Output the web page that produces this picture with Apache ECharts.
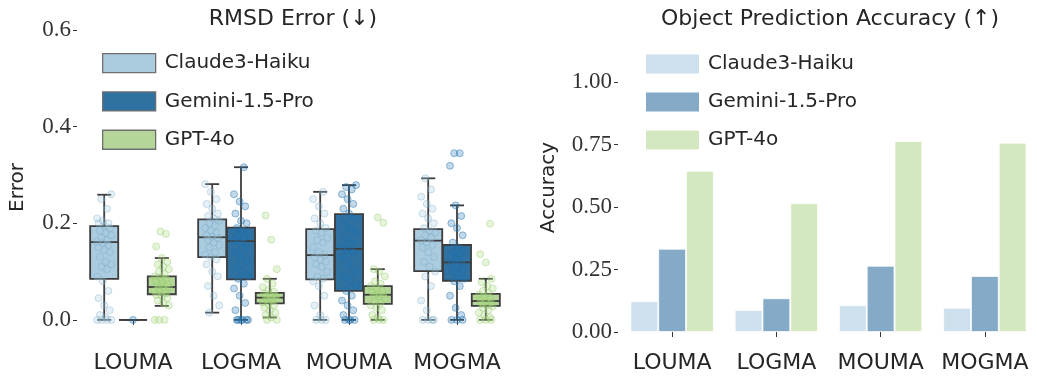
<!DOCTYPE html>
<html>
<head>
<meta charset="utf-8">
<script src="https://cdn.jsdelivr.net/npm/echarts@6/dist/echarts.min.js"></script>
<style>
  html, body { margin: 0; padding: 0; background: #fff; }
  #chart { width: 1037px; height: 381px; }
</style>
</head>
<body>
<div id="chart"></div>
<script>
// Categories and models
const categories = ["LOUMA", "LOGMA", "MOUMA", "MOGMA"];
const models = ["Claude3-Haiku", "Gemini-1.5-Pro", "GPT-4o"];

// Box stats per category: [min whisker, q1, median, q3, max whisker]
const boxClaude = [
  [0, 0.085, 0.161, 0.194, 0.259],
  [0.015, 0.130, 0.171, 0.208, 0.281],
  [0, 0.084, 0.134, 0.188, 0.265],
  [0, 0.101, 0.164, 0.188, 0.293],
];
const boxGemini = [
  [0, 0, 0, 0, 0],
  [0, 0.084, 0.163, 0.191, 0.316],
  [0, 0.060, 0.147, 0.219, 0.279],
  [0, 0.081, 0.119, 0.155, 0.237],
];
const boxGpt = [
  [0.029, 0.053, 0.068, 0.090, 0.128],
  [0.005, 0.034, 0.046, 0.056, 0.085],
  [0, 0.033, 0.052, 0.070, 0.105],
  [0, 0.029, 0.039, 0.054, 0.085],
];

// Individual RMSD values (strip points), per category
const pointsClaude = [
  [0, 0, 0, 0, 0.005, 0.01, 0.02, 0.03, 0.045, 0.06, 0.08, 0.09, 0.105, 0.11, 0.115, 0.12, 0.13, 0.14, 0.145, 0.15, 0.155, 0.16, 0.162, 0.165, 0.17, 0.175, 0.18, 0.185, 0.19, 0.195, 0.2, 0.2, 0.205, 0.21, 0.23, 0.25, 0.26],
  [0.015, 0.03, 0.05, 0.07, 0.09, 0.1, 0.115, 0.125, 0.13, 0.135, 0.14, 0.15, 0.155, 0.16, 0.165, 0.17, 0.172, 0.175, 0.18, 0.185, 0.19, 0.195, 0.2, 0.205, 0.21, 0.215, 0.22, 0.23, 0.24, 0.25, 0.265, 0.281],
  [0, 0, 0, 0.01, 0.03, 0.05, 0.07, 0.08, 0.085, 0.09, 0.1, 0.11, 0.115, 0.12, 0.125, 0.13, 0.135, 0.14, 0.15, 0.16, 0.165, 0.17, 0.18, 0.185, 0.19, 0.2, 0.21, 0.22, 0.235, 0.25, 0.265],
  [0, 0, 0, 0, 0.02, 0.04, 0.07, 0.09, 0.1, 0.11, 0.12, 0.13, 0.14, 0.15, 0.155, 0.16, 0.165, 0.17, 0.175, 0.18, 0.185, 0.19, 0.2, 0.21, 0.22, 0.23, 0.24, 0.255, 0.27, 0.293],
];
const pointsGemini = [
  [0],
  [0, 0, 0, 0, 0, 0, 0.02, 0.035, 0.05, 0.065, 0.075, 0.085, 0.09, 0.1, 0.11, 0.12, 0.13, 0.14, 0.15, 0.16, 0.165, 0.17, 0.175, 0.18, 0.185, 0.19, 0.2, 0.205, 0.22, 0.235, 0.245, 0.26, 0.316],
  [0, 0, 0, 0, 0.01, 0.02, 0.03, 0.04, 0.05, 0.06, 0.07, 0.08, 0.09, 0.1, 0.115, 0.13, 0.14, 0.145, 0.15, 0.16, 0.17, 0.18, 0.19, 0.2, 0.21, 0.22, 0.23, 0.24, 0.25, 0.26, 0.27, 0.275, 0.279],
  [0, 0, 0, 0.01, 0.025, 0.05, 0.07, 0.08, 0.085, 0.09, 0.1, 0.105, 0.11, 0.115, 0.12, 0.125, 0.13, 0.135, 0.14, 0.145, 0.15, 0.16, 0.175, 0.19, 0.2, 0.215, 0.237, 0.319, 0.345, 0.345],
];
const pointsGpt = [
  [0, 0, 0, 0.03, 0.035, 0.04, 0.045, 0.05, 0.052, 0.055, 0.058, 0.06, 0.062, 0.065, 0.068, 0.07, 0.072, 0.075, 0.078, 0.08, 0.085, 0.088, 0.09, 0.095, 0.1, 0.105, 0.11, 0.115, 0.12, 0.128, 0.152, 0.178, 0.183],
  [0, 0, 0.005, 0.01, 0.015, 0.02, 0.025, 0.03, 0.033, 0.036, 0.04, 0.042, 0.044, 0.046, 0.048, 0.05, 0.052, 0.055, 0.058, 0.062, 0.068, 0.075, 0.085, 0.105, 0.166, 0.216],
  [0, 0, 0, 0.005, 0.01, 0.02, 0.025, 0.03, 0.035, 0.04, 0.045, 0.048, 0.05, 0.052, 0.055, 0.058, 0.06, 0.065, 0.07, 0.075, 0.08, 0.09, 0.1, 0.105, 0.201, 0.212],
  [0, 0, 0, 0.005, 0.01, 0.015, 0.02, 0.025, 0.028, 0.03, 0.033, 0.036, 0.039, 0.042, 0.045, 0.048, 0.052, 0.055, 0.06, 0.065, 0.07, 0.078, 0.085, 0.119, 0.136, 0.199],
];

// Object prediction accuracy
const accClaude = [0.123, 0.088, 0.107, 0.097];
const accGemini = [0.333, 0.135, 0.265, 0.224];
const accGpt = [0.645, 0.515, 0.764, 0.757];

// Tick labels
const errorTicks = [0, 0.2, 0.4, 0.6];
const accTicks = [0, 0.25, 0.5, 0.75, 1.0];

const BOX_COLORS = ["#abcbde", "#2f71a0", "#b4d699"];
const POINT_FILL = ["rgba(166,206,227,0.35)", "rgba(31,120,180,0.35)", "rgba(178,223,138,0.4)"];
const POINT_EDGE = ["rgba(120,165,195,0.45)", "rgba(31,110,170,0.55)", "rgba(140,195,100,0.45)"];
const BAR_COLORS = ["#cde0eb", "#84aac7", "#d3e8c0"];
const EDGE = "#3d3d3d";
const SANS = "DejaVu Sans";
const SERIF = "Liberation Serif";
const HUE_STEP = 0.2667; // dodge offset, in category units
const BOX_HALF = 0.13;   // half box width, in category units

const boxes = [boxClaude, boxGemini, boxGpt];
const points = [pointsClaude, pointsGemini, pointsGpt];
const accs = [accClaude, accGemini, accGpt];

function makeRenderBox(hue) {
  return function (params, api) {
    const cat = api.value(0);
    const bw = api.size([1, 0])[0];
    const x = api.coord([cat, 0])[0] + (hue - 1) * bw * HUE_STEP;
    const half = bw * BOX_HALF;
    const cap = half / 2;
    const y = [1, 2, 3, 4, 5].map((i) => api.coord([cat, api.value(i)])[1]);
    const [yMin, yQ1, yMed, yQ3, yMax] = y;
    const line = { stroke: EDGE, lineWidth: 1.8 };
    return {
      type: "group",
      children: [
        { type: "line", shape: { x1: x, y1: yMax, x2: x, y2: yQ3 }, style: line },
        { type: "line", shape: { x1: x, y1: yQ1, x2: x, y2: yMin }, style: line },
        { type: "line", shape: { x1: x - cap, y1: yMax, x2: x + cap, y2: yMax }, style: line },
        { type: "line", shape: { x1: x - cap, y1: yMin, x2: x + cap, y2: yMin }, style: line },
        {
          type: "rect",
          shape: { x: x - half, y: yQ3, width: half * 2, height: yQ1 - yQ3 },
          style: { fill: BOX_COLORS[hue], stroke: EDGE, lineWidth: 1.8 },
        },
        { type: "line", shape: { x1: x - half, y1: yMed, x2: x + half, y2: yMed }, style: line },
      ],
    };
  };
}

const series = [];

// Boxes
boxes.forEach((b, hue) => {
  series.push({
    name: models[hue],
    type: "custom",
    xAxisIndex: 0,
    yAxisIndex: 0,
    renderItem: makeRenderBox(hue),
    encode: { x: 0, y: [1, 2, 3, 4, 5] },
    itemStyle: { color: BOX_COLORS[hue] },
    data: b.map((row, i) => [i].concat(row)),
    z: 2,
  });
});

// Strip points (deterministic jitter)
points.forEach((groups, hue) => {
  const data = [];
  groups.forEach((vals, cat) => {
    vals.forEach((v, i) => {
      const j = vals.length > 1 ? (((i * 7 + cat * 3) % 11) - 5) / 5 * 0.065 : 0;
      data.push([cat + (hue - 1) * HUE_STEP + j, v]);
    });
  });
  series.push({
    name: models[hue],
    type: "scatter",
    xAxisIndex: 1,
    yAxisIndex: 0,
    symbolSize: 7,
    itemStyle: { color: POINT_FILL[hue], borderColor: POINT_EDGE[hue], borderWidth: 1 },
    data: data,
    z: 3,
  });
});

// Accuracy bars
accs.forEach((vals, hue) => {
  series.push({
    name: models[hue],
    type: "bar",
    xAxisIndex: 2,
    yAxisIndex: 1,
    barGap: "0%",
    barCategoryGap: "20%",
    itemStyle: { color: BAR_COLORS[hue], borderColor: "rgba(255,255,255,0.7)", borderWidth: 1 },
    data: vals,
  });
});

const chart = echarts.init(document.getElementById("chart"), null, { renderer: "canvas" });

const catAxis = (gridIndex) => ({
  type: "category",
  gridIndex,
  data: categories,
  axisLine: { show: false },
  axisTick: { show: true, interval: 0, alignWithLabel: true, length: 5, lineStyle: { color: "#333", width: 1 } },
  axisLabel: { interval: 0, color: "#262626", fontFamily: SANS, fontSize: 22, margin: 7 },
  splitLine: { show: false },
});

const valAxis = (gridIndex, min, max, ticks, digits, name, gap) => ({
  type: "value",
  gridIndex,
  min,
  max,
  offset: 2,
  name,
  nameLocation: "middle",
  nameGap: gap,
  nameTextStyle: { color: "#262626", fontFamily: SANS, fontSize: 20 },
  axisLine: { show: false, onZero: false },
  axisTick: { show: true, length: 4, customValues: ticks, lineStyle: { color: "#333", width: 1 } },
  axisLabel: {
    customValues: ticks,
    color: "#333",
    fontFamily: SERIF,
    fontSize: 23,
    margin: 6,
    formatter: (v) => v.toFixed(digits),
  },
  splitLine: { show: false },
});

const legendBase = {
  orient: "vertical",
  itemWidth: 53,
  itemHeight: 19,
  itemGap: 18,
  selectedMode: false,
  icon: "rect",
  textStyle: { color: "#262626", fontFamily: SANS, fontSize: 20, padding: [0, 0, 0, 4] },
};

chart.setOption({
  animation: false,
  backgroundColor: "#fff",
  title: [
    {
      text: "RMSD Error (\u2193)",
      left: 288,
      top: 3,
      textAlign: "center",
      textStyle: { color: "#262626", fontFamily: SANS, fontSize: 22, fontWeight: "normal" },
    },
    {
      text: "Object Prediction Accuracy (\u2191)",
      left: 825,
      top: 3,
      textAlign: "center",
      textStyle: { color: "#262626", fontFamily: SANS, fontSize: 22, fontWeight: "normal" },
    },
  ],
  legend: [
    Object.assign({}, legendBase, {
      left: 97,
      top: 48,
      data: models.map((m, i) => ({
        name: m,
        itemStyle: { color: BOX_COLORS[i], borderColor: "#6f6f6f", borderWidth: 1.3 },
      })),
    }),
    Object.assign({}, legendBase, {
      left: 641,
      top: 49,
      data: models.map((m, i) => ({
        name: m,
        itemStyle: { color: BAR_COLORS[i], borderColor: "#fff", borderWidth: 0 },
      })),
    }),
  ],
  grid: [
    { left: 79, top: 30, width: 432, bottom: 36 },
    { left: 620, top: 30, width: 423, bottom: 36 },
  ],
  xAxis: [
    catAxis(0),
    { type: "value", gridIndex: 0, min: -0.5, max: 3.5, show: false },
    catAxis(1),
  ],
  yAxis: [
    valAxis(0, -0.052, 0.6, errorTicks, 1, "Error", 49),
    valAxis(1, -0.052, 1.208, accTicks, 2, "Accuracy", 59),
  ],
  series,
});
</script>
</body>
</html>
